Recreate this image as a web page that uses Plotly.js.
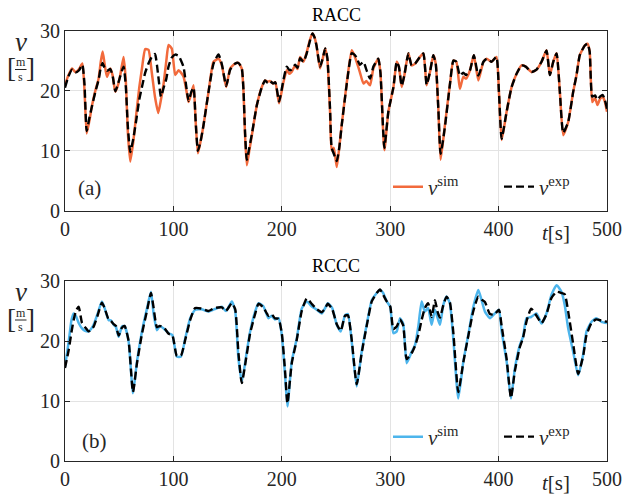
<!DOCTYPE html>
<html><head><meta charset="utf-8">
<script src="https://cdn.plot.ly/plotly-3.0.1.min.js"></script>
<style>body{margin:0;padding:0;background:#fff}#chart{width:629px;height:499px}</style>
</head><body><div id="chart"></div>
<script>
// ---- data: RACC ----
const tA = [0,3,6.5,9.5,13,16,18,20,22.5,25,28,31,33,34.7,36.5,38.7,41.8,44,46.4,49,51,54,56,58,60.2,63,66,68.5,71,74,77,80,83,86,88.5,91,93.5,95.5,98.5,101.7,104.8,107,109.4,112,114,116.5,118.6,120.5,122.6,125,127.8,132.4,137,141.6,144.7,148.7,152.4,157,160,163,164.7,166,167.7,170,172.4,177,181.6,184.6,187,189,192,194,197.5,201.5,204.6,207,209,212.3,214.5,216.9,220,223,226,228.3,230.3,232,235.3,238,240,242,244.5,246,248,250.7,253,255.3,260,264.5,267,269,272,275.3,278,281.4,284.5,289,291,294.6,298.3,303,306,308,310.6,313,316.8,319.8,323,327,330.6,333.6,336.7,339.8,342,344.4,346.5,350.5,355,358.3,361,364.3,367.4,370,373.6,377.2,381.3,386,389,393.5,398,400.3,402.8,407.4,412,416.6,421.2,425,430.4,435,439.6,444.2,447.3,450.4,453.5,456.5,459.6,464.2,468.8,471.9,474.9,479.5,482,484,486.4,489,491.2,493.5,496,498,500];
const simA = [20.9,22.5,23.7,23.1,23.6,24.5,20,12.9,15,17.6,20,22,24.8,26.5,24.5,22.3,23.7,22.5,19.8,21,22.6,25.6,22,13,8.2,11.5,16.5,20.5,23.7,26.9,26.8,23.1,19,16.3,18.5,21.2,25,27.6,27.0,22.6,23.4,23,22.3,20,18.1,19.5,20.9,15,9.6,11.5,14.3,19.8,24.8,25.3,24.2,20.6,23.7,24.5,24.6,23.7,19.8,13,7.6,10,12.6,17.6,20.6,21.7,21.5,21.6,21.2,21.4,17.9,21.4,23.4,22.8,23.1,24.2,23.6,25.6,24.8,26.4,28.5,29.5,28.8,27.5,23.7,25.5,27,25.2,16.5,10.1,10.5,7.3,10.5,14.3,21.4,26.7,25.8,24.8,23.1,21.2,21.6,20.9,23.7,25.3,23,10.1,16.5,20.6,24.8,24,20.6,22.5,26.2,24.2,24.5,25.5,26.2,20.9,23.1,25.9,24.5,17,8.5,14.3,20.9,25,24.8,20.3,22.3,22,23.4,25.9,21.7,24.8,25.3,24.8,25.6,19.8,11.8,16.5,20.6,22.8,24.2,24,23.1,23.5,24.8,26.7,22.6,24.8,26.2,19.8,12.6,14.8,19.8,22.6,25.9,27.5,27.8,26.5,18.1,18.8,17.6,18.6,19,18.2,16.5];
const expA = [20.5,22.3,23.5,23.0,23.4,24.3,21,13.3,15.5,17.5,19.8,21.8,23.8,24.6,23.8,23.3,23.6,22.4,19.9,21.2,22.4,24.0,21,14,9.8,12,15.4,18.5,20.6,23,24.5,25.6,26.1,22.5,19,20.5,22,24,25.5,26,25.8,25,23.9,20.5,18.3,19.8,20.5,15,10,11.5,14.3,19.8,24.5,26,24.4,20.8,23.5,24.5,24.6,23.8,20,13.5,8.5,10.5,12.8,17.6,20.6,21.7,21.3,21.6,21.2,21.4,18.2,21.8,24.0,23.4,23.5,24.3,23.8,25.4,24.8,26.2,28.3,29.5,28.8,27.5,24,25.5,27,25.5,17,10.5,9.5,8.3,10.5,14.3,21.2,26.2,26,25.5,24.3,24.8,23.5,22,24,25.3,23,10.5,16.5,20.6,24.8,24,20.8,22.5,26.2,24.2,24.5,25.5,26.2,21,23.1,25.9,24.5,17,9.5,14,20.9,25,24.8,22.5,23,22.6,23.4,25.9,22.5,24.8,25.3,24.8,25.6,19.8,12,16.5,20.6,22.8,24.2,24,23.1,23.5,24.8,26.7,22.6,24.8,26.2,19.8,13,14.8,19.8,22.6,25.9,27.5,27.8,26.5,19,19.2,18.5,19,19.3,18.5,17];
// ---- data: RCCC ----
const tB = [0,3.4,6,8,10,12.6,15.7,18.5,21.8,24,26.4,30,34,36.5,40.2,42.5,44.9,47,49.5,52.5,55,58.7,62.7,66.4,71,75.6,79.3,81.7,84.8,87.5,91,95.6,99,103.2,107,110.9,115.5,120,126,132.4,138,144.7,148.5,153.9,157,160,163.1,167.7,170.8,175.4,178.5,183,187.7,190.5,193.5,197,200,203,205.2,209.2,213.8,218.4,223,227.5,232.3,236.9,240,242.4,246.5,250.7,254.4,258.3,261,264.5,269.1,273.7,278.3,283,287.6,290.6,293.5,296.8,300,302.9,306,309,312,315.2,319.8,322.9,326,329,332,335,338.2,341.3,343.5,345.9,349,352,355,358.2,362.8,367.5,372,376.7,381.3,384.3,387.4,392,396,400.3,402.8,407.4,411.4,415,419.6,422.5,425.8,430,435,439.6,444,448.8,453.5,458,461,464.2,468.8,473.4,478,481.1,485.7,490,494.9,500];
const simB = [15.7,19.9,23.5,24.6,24.2,23,22.1,21.7,21.6,22,22.7,24.5,26.6,25.5,23.5,23.4,22.7,22.3,20.7,22.4,22.5,19.9,11.3,16.6,21.6,25.4,28.2,24.6,21.8,22.5,22.1,21.3,21,17.4,17.4,20.4,23.8,25.2,25.3,24.9,25.3,25.7,25,26.6,25,17.1,13.2,18.2,21.6,24.9,26.3,25.8,23.8,24.2,23.6,23.8,21,14.3,9.1,16.6,20.4,25.4,26.6,25.8,25.2,24.6,25.5,26.3,25.5,22.7,21.6,24.3,24.5,19.9,12.4,18.2,22.7,26.8,28,28.5,28,26.6,25.7,21.3,21.6,23.8,22.9,16.3,18.2,19.3,22.5,26.6,24.9,25.5,22.7,25.2,24,22.7,26,27.4,26.3,20.4,10.4,16.6,21,25.7,28.5,26.8,24.9,23.8,24.5,25.2,21.6,16.6,10.4,15.4,19.3,20.7,23.8,24,24.6,22.9,24.5,27.7,29.3,28.2,26,22.1,18.2,14.3,17.7,21.6,23.2,23.8,23.2,23];
const expB = [15.5,18.5,21.5,23.5,25,25.7,23,22.3,21.6,21.8,22.4,24.2,26.4,25.5,23.6,23.3,22.8,22.5,20.9,22.2,22.5,20,11.5,16.3,21.2,25,28,25.6,22.3,22.5,22.3,21.2,21,17.5,17.6,20.2,23.5,25.5,25.4,25,25.5,25.6,25,26.3,25.3,18,13,17.8,21.3,24.5,26.2,25.6,24.2,24.5,23.8,23.7,21.3,15,9.6,16.3,20.2,25,27.1,26.2,25.3,24.8,25.4,26.2,25.3,22.8,21.7,24.2,24.3,20.2,12.8,18,22.5,26.6,28,28.6,27.7,26.6,25.8,22,22.4,23.6,22.6,17,18,19.2,21,23.5,25.5,26.3,24,26.8,25,23.9,26,27.4,26.5,21.5,11.5,16.5,20.8,25,27.4,26.9,26.5,24.5,24.4,25.2,22.5,17,10.5,15,19,20.5,23.3,25.4,24.2,23,24.4,27.2,28.2,28,27.8,24.9,19.5,14.5,17.5,21,23,23.6,23.4,23.2];
const xTicks = [0,100,200,300,400,500];
const yTicks = [0,10,20,30];
const titles = ['RACC','RCCC'];
const panelTags = ['(a)','(b)'];

// ---- styling ----
const W = 629, H = 499;
const px = x => x / W, py = y => 1 - y / H;
const FONT = 'Liberation Serif';
const ORANGE = '#F26A3C', BLUE = '#4DB5EC';
const axisCommon = {
  showline: true, mirror: 'ticks', linecolor: '#262626', linewidth: 1,
  ticks: 'inside', ticklen: 5, tickcolor: '#262626',
  showgrid: true, gridcolor: '#e3e3e3', gridwidth: 1, zeroline: false,
  tickfont: {family: FONT, size: 20, color: '#262626'}
};
const xa = d => Object.assign({}, axisCommon, {domain: d, range: [0, 500], tickvals: xTicks, ticktext: xTicks.map(String)});
const ya = d => Object.assign({}, axisCommon, {domain: d, range: [0, 30], tickvals: yTicks, ticktext: yTicks.map(String)});

const simName = '<i>v</i><sup>sim</sup>', expName = '<i>v</i><sup>exp</sup>';
const data = [
  {x: tA, y: simA, xaxis: 'x', yaxis: 'y', mode: 'lines', name: simName, legend: 'legend',
   line: {color: ORANGE, width: 2.5, shape: 'spline', smoothing: 0.5}},
  {x: tA, y: expA, xaxis: 'x', yaxis: 'y', mode: 'lines', name: expName, legend: 'legend',
   line: {color: '#000', width: 2.4, dash: '8px,4px', shape: 'spline', smoothing: 0.5}},
  {x: tB, y: simB, xaxis: 'x2', yaxis: 'y2', mode: 'lines', name: simName, legend: 'legend2',
   line: {color: BLUE, width: 2.5, shape: 'spline', smoothing: 0.5}},
  {x: tB, y: expB, xaxis: 'x2', yaxis: 'y2', mode: 'lines', name: expName, legend: 'legend2',
   line: {color: '#000', width: 2.4, dash: '8px,4px', shape: 'spline', smoothing: 0.5}}
];

const legendCommon = {orientation: 'h', xanchor: 'left', yanchor: 'middle', bgcolor: 'rgba(0,0,0,0)',
  borderwidth: 0, font: {family: FONT, size: 21, color: '#262626'}, entrywidth: 66, traceorder: 'normal'};

const ann = [];
const tops = [30.5, 281];
const bots = [211, 461];
const A = (text, x, y, size, extra) => Object.assign({text: text, x: px(x), y: py(y), xref: 'paper', yref: 'paper',
  showarrow: false, xanchor: 'center', yanchor: 'middle', font: {family: FONT, size: size, color: '#262626'}}, extra || {});
[0, 1].forEach(i => {
  const top = tops[i], bot = bots[i];
  ann.push(A(titles[i], 336, top - 15, 18, {font: {family: FONT, size: 18, color: '#000'}}));
  ann.push(A(panelTags[i], i ? 94 : 89, bot - (i ? 20 : 23), 21));
  ann.push(A('<i>t</i>[s]', 556, bot + 22, 21));
  ann.push(A('<i>v</i>', 21, top + 11, 27));
  ann.push(A('[', 11, top + 38, 27));
  ann.push(A(']', 30.5, top + 38, 27));
  ann.push(A('m', 20.5, top + 32, 12));
  ann.push(A('s', 20.5, top + 46, 12));
});
const shapes = [0, 1].map(i => ({type: 'line', xref: 'paper', yref: 'paper',
  x0: px(15), x1: px(26.5), y0: py(tops[i] + 39), y1: py(tops[i] + 39), line: {color: '#262626', width: 1}}));

const layout = {
  width: W, height: H, margin: {l: 0, r: 0, t: 0, b: 0},
  paper_bgcolor: '#fff', plot_bgcolor: '#fff',
  xaxis: Object.assign(xa([px(65), px(607)]), {anchor: 'y'}),
  yaxis: Object.assign(ya([py(211), py(30.5)]), {anchor: 'x'}),
  xaxis2: Object.assign(xa([px(65), px(607)]), {anchor: 'y2'}),
  yaxis2: Object.assign(ya([py(461), py(281)]), {anchor: 'x2'}),
  showlegend: true,
  legend: Object.assign({x: px(388), y: py(187)}, legendCommon),
  legend2: Object.assign({x: px(388), y: py(437)}, legendCommon),
  annotations: ann, shapes: shapes
};
Plotly.newPlot('chart', data, layout, {displayModeBar: false, staticPlot: true});
</script></body></html>
